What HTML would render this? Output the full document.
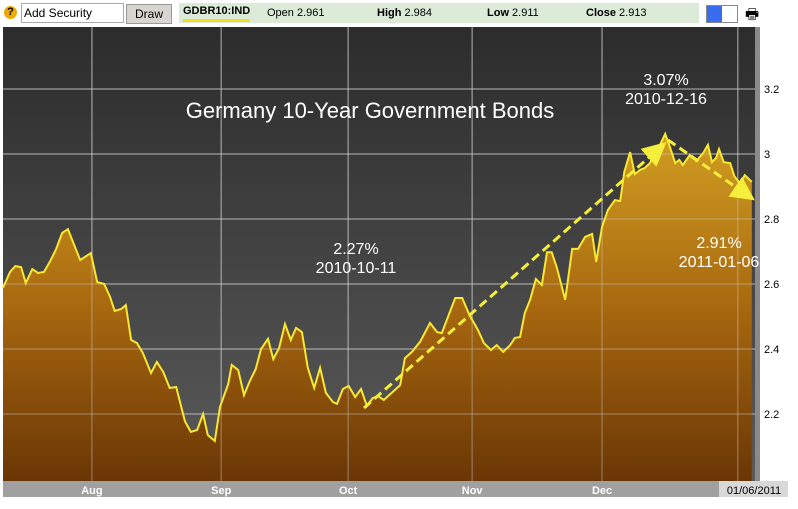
<!DOCTYPE html>
<html><head><meta charset="utf-8"><style>
body{margin:0;width:798px;height:509px;background:#fff;font-family:"Liberation Sans",sans-serif;overflow:hidden;position:relative}
.tb{position:absolute;font-size:12px}
</style></head><body>
<div class="tb" style="left:4px;top:6px;width:13px;height:13px;border-radius:50%;background:#f0a800;color:#000;font-weight:bold;font-size:11px;text-align:center;line-height:13px">?</div>
<div class="tb" style="left:21px;top:3px;width:99px;height:18px;border:1px solid #aaa;line-height:18px;padding-left:2px">Add Security</div>
<div class="tb" style="left:126px;top:4px;width:44px;height:18px;background:#d8d4d0;border:1px solid #999;text-align:center;line-height:18px">Draw</div>
<div class="tb" style="left:179px;top:3px;width:520px;height:20px;background:#dcead8;font-size:11px;line-height:20px">
<span style="position:absolute;left:4px;font-weight:bold;border-bottom:3px solid #f5e020;line-height:15px;top:1px">GDBR10:IND</span>
<span style="position:absolute;left:88px">Open 2.961</span>
<span style="position:absolute;left:198px"><b>High</b> 2.984</span>
<span style="position:absolute;left:308px"><b>Low</b> 2.911</span>
<span style="position:absolute;left:407px"><b>Close</b> 2.913</span></div>
<div class="tb" style="left:706px;top:5px;width:30px;height:16px;border:1px solid #888;background:linear-gradient(90deg,#3a6cf0 50%,#fff 50%)"></div>
<div class="tb" style="left:745px;top:4px;font-size:15px">🖶</div>
<svg id="c" width="798" height="509" style="position:absolute;left:0;top:0">
<defs>
<linearGradient id="bg" x1="0" y1="0" x2="0" y2="1"><stop offset="0" stop-color="#2c2c2c"/><stop offset="1" stop-color="#5a5a5a"/></linearGradient>
<linearGradient id="fl" x1="0" y1="0" x2="0" y2="1"><stop offset="0" stop-color="#d19e22"/><stop offset="0.5" stop-color="#a8680f"/><stop offset="1" stop-color="#6a3605"/></linearGradient>
<marker id="ah" markerWidth="8" markerHeight="8" refX="6" refY="4" orient="auto" markerUnits="strokeWidth"><path d="M0,0L8,4L0,8z" fill="#f5ee3a"/></marker>
</defs>
<rect x="3" y="27" width="754" height="454" fill="url(#bg)"/>
<g id="grid"></g>
<path id="area" fill="url(#fl)"/>
<g id="grid2"></g>
<path id="line" fill="none" stroke="#f8e830" stroke-width="2"/>
<rect x="755" y="27" width="5" height="454" fill="#8a8a8a"/>
<rect x="3" y="481" width="757" height="16" fill="#a0a0a0"/>
<g id="labels"></g>
<text x="370" y="118" fill="#fff" font-size="22" text-anchor="middle">Germany 10-Year Government Bonds</text>
<text x="356" y="254" fill="#fff" font-size="16" text-anchor="middle">2.27%</text>
<text x="356" y="273" fill="#fff" font-size="16" text-anchor="middle">2010-10-11</text>
<text x="666" y="85" fill="#fff" font-size="16" text-anchor="middle">3.07%</text>
<text x="666" y="104" fill="#fff" font-size="16" text-anchor="middle">2010-12-16</text>
<text x="719" y="248" fill="#fff" font-size="16" text-anchor="middle">2.91%</text>
<text x="719" y="267" fill="#fff" font-size="16" text-anchor="middle">2011-01-06</text>
<line x1="364" y1="408" x2="662" y2="146" stroke="#f5ee3a" stroke-width="3" stroke-dasharray="9,5" marker-end="url(#ah)"/>
<line x1="668" y1="140" x2="750" y2="197" stroke="#f5ee3a" stroke-width="3" stroke-dasharray="9,5" marker-end="url(#ah)"/>
<rect x="719" y="481" width="69" height="16" fill="#d8d8d8"/>
<text x="754" y="494" font-size="11" text-anchor="middle" fill="#000">01/06/2011</text>
</svg>
<script>
const days=[0,1.2,2.1,3.1,3.9,5.0,6.0,7.0,8.0,9.1,10.1,11.1,12.1,13.2,15.0,16.1,17.3,18.3,19.1,20.2,21.0,21.9,22.9,23.9,25.3,26.3,27.4,28.5,29.6,31.1,32.1,33.2,34.2,35.0,36.2,37.1,38.5,39.1,40.2,41.2,42.2,43.2,44.1,45.3,46.2,47.2,48.2,49.2,50.1,51.1,52.1,53.2,54.2,55.2,56.4,57.1,58.1,59.1,60.2,61.2,62.2,63.2,64.1,65.1,67.9,68.7,69.9,71.3,73.0,74.2,75.0,77.3,78.5,79.8,80.7,81.2,82.2,83.4,84.4,85.5,86.7,87.5,88.4,89.2,90.1,91.1,92.1,93.0,93.8,94.7,96.1,97.3,98.3,99.5,100.7,101.4,102.4,103.4,104.6,105.5,106.2,107.2,108.0,108.9,109.7,110.6,111.5,112.3,113.2,114.0,114.9,115.6,116.2,117.4,118.5,119.7,120.5,121.2,121.9,122.4,123.2,124.3,125.0,126.0,126.8,128.0];
const values=[2.588,2.637,2.655,2.652,2.603,2.646,2.634,2.637,2.668,2.708,2.757,2.769,2.723,2.674,2.695,2.606,2.600,2.560,2.517,2.523,2.535,2.428,2.418,2.388,2.326,2.360,2.329,2.280,2.283,2.178,2.145,2.151,2.200,2.135,2.117,2.222,2.292,2.351,2.335,2.258,2.302,2.338,2.400,2.431,2.369,2.403,2.477,2.428,2.465,2.452,2.342,2.280,2.342,2.265,2.237,2.231,2.277,2.286,2.252,2.277,2.225,2.249,2.255,2.243,2.289,2.372,2.391,2.422,2.480,2.452,2.449,2.557,2.557,2.502,2.474,2.458,2.418,2.397,2.412,2.391,2.412,2.434,2.437,2.511,2.551,2.615,2.597,2.698,2.698,2.649,2.551,2.708,2.708,2.745,2.754,2.668,2.775,2.828,2.858,2.855,2.945,3.006,2.938,2.951,2.957,2.972,3.012,3.028,3.062,3.022,2.972,2.982,2.966,2.997,2.978,3.003,3.028,2.975,2.988,3.015,2.975,2.972,2.932,2.908,2.935,2.914];
const yTicks=[2.2,2.4,2.6,2.8,3,3.2];
const yTickLabels=["2.2","2.4","2.6","2.8","3","3.2"];
const months=["Aug","Sep","Oct","Nov","Dec",""];
const monthDays=[15.2,37.3,59.0,80.2,102.4,125.6];
const y=v=>154-(v-3)*325;
const x=d=>3+d*5.85;
const NS="http://www.w3.org/2000/svg";
function mk(t,a,p){const e=document.createElementNS(NS,t);for(const k in a)e.setAttribute(k,a[k]);p.appendChild(e);return e;}
const g=document.getElementById('grid'),g2=document.getElementById('grid2'),lb=document.getElementById('labels');
yTicks.forEach((v,i)=>{
 for(const G of [g,g2]){const l=mk('line',{x1:3,x2:755,y1:y(v),y2:y(v),stroke:'rgba(200,200,200,0.35)','stroke-width':1.5},G);
 
 }
 const t=mk('text',{x:764,y:y(v)+4,'font-size':11,fill:'#000'},lb);t.textContent=yTickLabels[i];
 
 
});
months.forEach((m,i)=>{
 const xx=x(monthDays[i]);
 for(const G of [g,g2]){const l=mk('line',{x1:xx,x2:xx,y1:27,y2:481,stroke:'rgba(200,200,200,0.35)','stroke-width':1.5},G);
 
 }
 if(m){const t=mk('text',{x:xx,y:494,'font-size':11,fill:'#fff','text-anchor':'middle','font-weight':'bold'},lb);t.textContent=m;
 
 }
});
let d=values.map((v,i)=>(i?'L':'M')+x(days[i]).toFixed(1)+','+y(v).toFixed(1)).join('');
const ln=document.getElementById('line');ln.setAttribute('d',d);


const ar=document.getElementById('area');ar.setAttribute('d',d+'L'+x(days[days.length-1])+',481L3,481Z');


</script>
</body></html>
